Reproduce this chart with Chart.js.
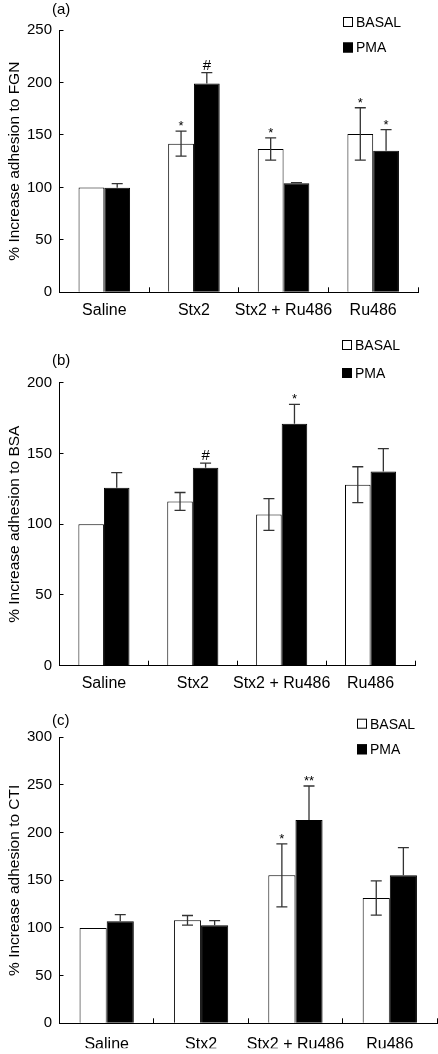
<!DOCTYPE html>
<html>
<head>
<meta charset="utf-8">
<script src="https://cdn.jsdelivr.net/npm/chart.js@4/dist/chart.umd.min.js"></script>
<style>
  body { margin: 0; background: #fff; }
  .panel { position: absolute; left: 0; }
</style>
</head>
<body>
<canvas id="chartA" class="panel" style="top:0px" width="438" height="335"></canvas>
<canvas id="chartB" class="panel" style="top:335px" width="438" height="360"></canvas>
<canvas id="chartC" class="panel" style="top:695px" width="438" height="359"></canvas>
<script>
const categories = ['Saline', 'Stx2', 'Stx2 + Ru486', 'Ru486'];
const seriesNames = ['BASAL', 'PMA'];

// (a) FGN
const fgnBasal = [100, 141.7, 136.6, 150.9];
const fgnBasalErr = [0, 12, 10.6, 25];
const fgnPma = [99.6, 198.9, 103.9, 135];
const fgnPmaErr = [4, 10.4, 0.6, 20];
const fgnBasalSig = ['', '*', '*', '*'];
const fgnPmaSig = ['', '#', '', '*'];
const fgnTicks = [0, 250, 50];

// (b) BSA
const bsaBasal = [100, 116.1, 106.9, 127.9];
const bsaBasalErr = [0, 6.3, 11.2, 12.7];
const bsaPma = [125.8, 139.9, 171, 137.3];
const bsaPmaErr = [10.6, 3.3, 13.7, 16.1];
const bsaBasalSig = ['', '', '', ''];
const bsaPmaSig = ['', '#', '*', ''];
const bsaTicks = [0, 200, 50];

// (c) CTI
const ctiBasal = [100, 108, 155.2, 131.5];
const ctiBasalErr = [0, 5.1, 33, 18];
const ctiPma = [107, 102.8, 213.3, 155.2];
const ctiPmaErr = [7, 4.9, 35.6, 29.1];
const ctiBasalSig = ['', '', '*', ''];
const ctiPmaSig = ['', '', '**', ''];
const ctiTicks = [0, 300, 50];

const FONT = "'Liberation Sans', Arial, Helvetica, sans-serif";

// error bars, significance marks, legend and panel letter
const extrasPlugin = {
  id: 'extras',
  afterDatasetsDraw(chart, args, opts) {
    const ctx = chart.ctx;
    const y = chart.scales.y;
    ctx.save();
    chart.data.datasets.forEach((ds, di) => {
      const meta = chart.getDatasetMeta(di);
      const dark = ds.backgroundColor == '#000000';
      meta.data.forEach((bar, i) => {
        const v = ds.data[i];
        const e = ds.err[i];
        let capY = y.getPixelForValue(v);
        if (e > 0) {
          const top = y.getPixelForValue(v + e);
          const bot = y.getPixelForValue(v - e);
          ctx.strokeStyle = '#333';
          ctx.lineWidth = 1.3;
          ctx.beginPath();
          ctx.moveTo(bar.x, top);
          ctx.lineTo(bar.x, dark ? capY : bot);
          ctx.moveTo(bar.x - 5.5, top);
          ctx.lineTo(bar.x + 5.5, top);
          if (!dark) {
            ctx.moveTo(bar.x - 5.5, bot);
            ctx.lineTo(bar.x + 5.5, bot);
          }
          ctx.stroke();
          capY = top;
        }
        const s = ds.sig[i];
        if (s) {
          ctx.fillStyle = '#000';
          ctx.textAlign = 'center';
          ctx.textBaseline = 'alphabetic';
          if (s == '#') {
            ctx.font = '15px ' + FONT;
            ctx.fillText(s, bar.x, capY - 3);
          } else {
            ctx.font = '13px ' + FONT;
            ctx.fillText(s, bar.x, capY - 1);
          }
        }
      });
    });

    // legend
    ctx.font = '14px ' + FONT;
    ctx.textAlign = 'left';
    ctx.textBaseline = 'middle';
    chart.data.datasets.forEach((ds, di) => {
      const cy = opts.legendY[di];
      const bx = opts.legendX;
      ctx.fillStyle = ds.backgroundColor;
      ctx.fillRect(bx, cy - 5, 10, 10);
      ctx.strokeStyle = '#000';
      ctx.lineWidth = 1;
      ctx.strokeRect(bx + 0.5, cy - 4.5, 9, 9);
      ctx.fillStyle = '#000';
      ctx.fillText(ds.label, bx + 13, cy + 1);
    });

    // panel letter
    ctx.font = '15px ' + FONT;
    ctx.fillText(opts.letter, 52, opts.letterY);
    ctx.restore();
  }
};

function makePanel(id, basal, basalErr, basalSig, pma, pmaErr, pmaSig, ticks, title, geo) {
  const ctx = document.getElementById(id).getContext('2d');
  return new Chart(ctx, {
    type: 'bar',
    data: {
      labels: categories,
      datasets: [{
        label: seriesNames[0],
        data: basal,
        err: basalErr,
        sig: basalSig,
        backgroundColor: '#ffffff',
        borderColor: '#000000',
        borderWidth: 1,
        barPercentage: 1,
        categoryPercentage: 0.575
      }, {
        label: seriesNames[1],
        data: pma,
        err: pmaErr,
        sig: pmaSig,
        backgroundColor: '#000000',
        borderColor: '#000000',
        borderWidth: 1,
        barPercentage: 1,
        categoryPercentage: 0.575
      }]
    },
    options: {
      responsive: false,
      animation: false,
      layout: {
        padding: { top: geo.top, right: geo.right, bottom: geo.bottom, left: 0 }
      },
      plugins: {
        legend: { display: false },
        tooltip: { enabled: false },
        extras: { legendX: geo.legendX, legendY: geo.legendY, letter: geo.letter, letterY: geo.letterY }
      },
      scales: {
        x: {
          afterFit: (s) => { s.height = 25; },
          border: { display: true, color: '#000', width: 1 },
          grid: { offset: true, drawOnChartArea: false, tickLength: -5, color: '#000' },
          ticks: { color: '#000', padding: geo.xPad, autoSkip: false, font: { family: FONT, size: 16 }, maxRotation: 0 }
        },
        y: {
          min: ticks[0],
          max: ticks[1],
          afterFit: (s) => { s.width = 59.5; },
          border: { display: true, color: '#000', width: 1 },
          grid: { drawOnChartArea: false, tickLength: -4, color: '#000' },
          ticks: { stepSize: ticks[2], color: '#000', padding: 11.5, font: { family: FONT, size: 15 } },
          title: {
            display: true,
            text: title,
            color: '#000',
            padding: { top: 5, bottom: 0 },
            font: { family: FONT, size: 15.5 }
          }
        }
      }
    },
    plugins: [extrasPlugin]
  });
}

makePanel('chartA', fgnBasal, fgnBasalErr, fgnBasalSig, fgnPma, fgnPmaErr, fgnPmaSig, fgnTicks,
  '% Increase adhesion to FGN',
  { top: 30, right: 20, bottom: 17.7, xPad: 14, legendX: 343, legendY: [22, 47.5], letter: '(a)', letterY: 10 });

makePanel('chartB', bsaBasal, bsaBasalErr, bsaBasalSig, bsaPma, bsaPmaErr, bsaPmaSig, bsaTicks,
  '% Increase adhesion to BSA',
  { top: 47.7, right: 23, bottom: 4.3, xPad: 13.5, legendX: 342, legendY: [10, 38], letter: '(b)', letterY: 26 });

makePanel('chartC', ctiBasal, ctiBasalErr, ctiBasalSig, ctiPma, ctiPmaErr, ctiPmaSig, ctiTicks,
  '% Increase adhesion to CTI',
  { top: 42.3, right: 1, bottom: 5.7, xPad: 17, legendX: 357, legendY: [28.7, 54.3], letter: '(c)', letterY: 26 });
</script>
</body>
</html>
